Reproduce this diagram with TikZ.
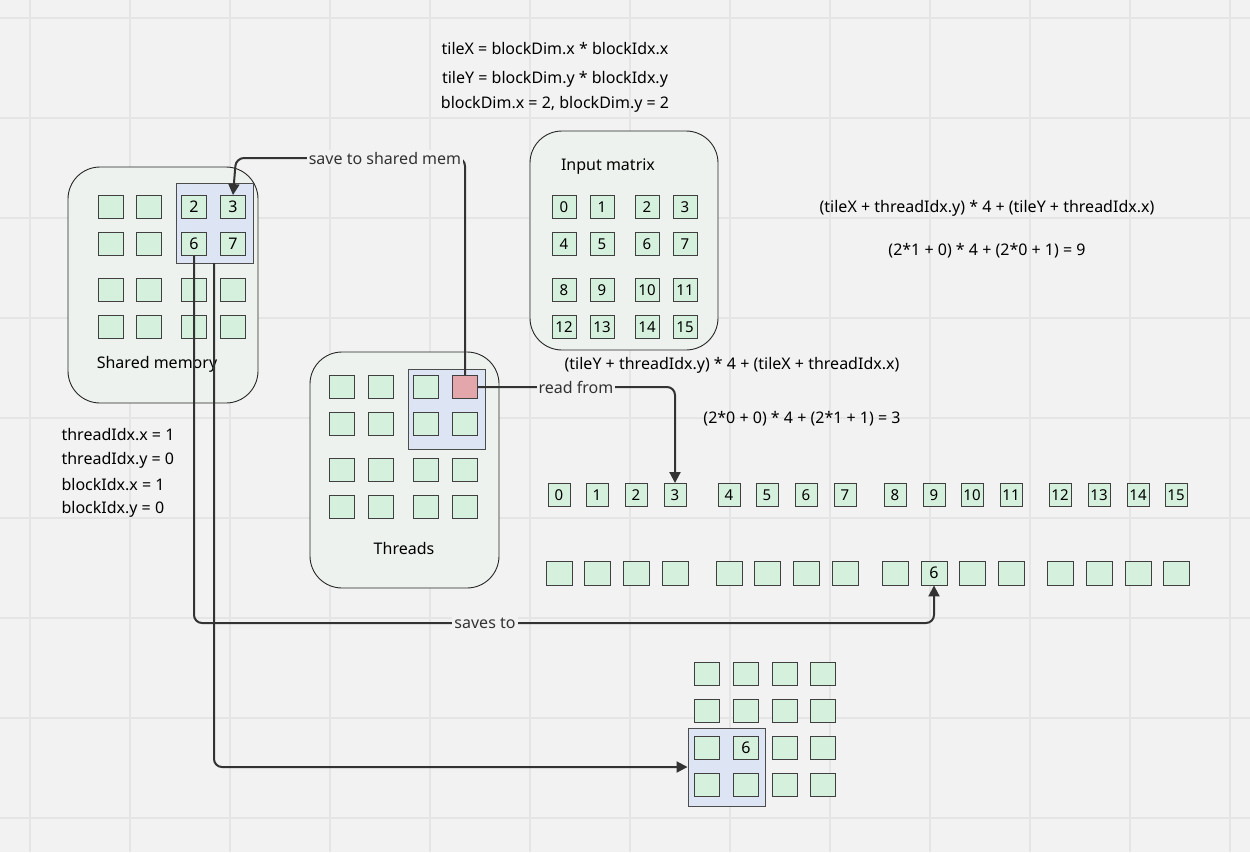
\documentclass[tikz,border=0pt]{standalone}
\usepackage{fontspec}
\setmainfont{Noto Sans}
\begin{document}
\begin{tikzpicture}[x=1pt,y=-1pt,
  font=\fontsize{16}{19}\selectfont,
  sq/.style={draw=black!75,fill=cellg,minimum width=25pt,minimum height=23pt,inner sep=0pt,line width=0.9pt},
  sqs/.style={draw=black!75,fill=cellg,minimum width=24pt,minimum height=23pt,inner sep=0pt,line width=0.9pt,font=\fontsize{15}{17}\selectfont},
  grp/.style={draw=black!85,fill=boxg,rounded corners=32pt,line width=0.9pt},
  hl/.style={draw=black!70,fill=hlb,line width=0.9pt},
  conn/.style={draw=black!80,line width=2pt,rounded corners=8pt},
  arr/.style={-{Triangle[length=11pt,width=11pt]}},
  lbl/.style={fill=bg,inner sep=2pt,text=black!80}]
\definecolor{bg}{HTML}{F2F2F2}
\definecolor{gridc}{HTML}{E5E5E5}
\definecolor{cellg}{HTML}{D5F0DC}
\definecolor{boxg}{HTML}{EDF2EE}
\definecolor{hlb}{HTML}{DDE5F5}
\definecolor{redc}{HTML}{E3A6AA}
\usetikzlibrary{arrows.meta}
\fill[bg] (0,0) rectangle (1250,852);
\useasboundingbox (0,0) rectangle (1250,852);
\foreach \x in {30,130,...,1230} \draw[gridc,line width=1.5pt] (\x,0) -- (\x,852);
\foreach \y in {18,118,...,818} \draw[gridc,line width=1.5pt] (0,\y) -- (1250,\y);

% Shared memory
\draw[grp] (68,167) rectangle (258,403);
\node[hl,minimum width=77pt,minimum height=80pt,inner sep=0pt] (smhl) at (214.5,223) {};
\foreach \c/\x in {1/111,2/149,3/194,4/233}
  \foreach \r/\y in {1/207,2/244,3/290,4/327}
    \node[sq] (sm\r\c) at (\x,\y) {};
\node at (sm13) {2}; \node at (sm14) {3}; \node at (sm23) {6}; \node at (sm24) {7};
\node (smlab) at (157,364) {Shared memory};

% Input matrix
\draw[grp] (530,131) rectangle (718,350);
\node (imlab) at (608,167) {Input matrix};
\foreach \c/\x in {1/564,2/602,3/647,4/685}
  \foreach \r/\y in {1/207,2/244,3/290,4/327}
    \node[sqs] (im\r\c) at (\x,\y) {\pgfmathparse{int((\r-1)*4+\c-1)}\pgfmathresult};

% Threads
\draw[grp] (310,352) rectangle (499,588);
\node[hl,minimum width=77pt,minimum height=80pt,inner sep=0pt] (thhl) at (446.5,409) {};
\foreach \c/\x in {1/342,2/381,3/426,4/465}
  \foreach \r/\y in {1/387,2/424,3/470,4/507}
    \node[sq] (th\r\c) at (\x,\y) {};
\node[sq,fill=redc] (red) at (465,387) {};
\node (thlab) at (404,548) {Threads};

% formulas
\node (f1) at (555,49) {tileX = blockDim.x * blockIdx.x};
\node (f2) at (555,79) {tileY = blockDim.y * blockIdx.y};
\node (f3) at (555,104) {blockDim.x = 2, blockDim.y = 2};
\node (f4) at (987,208) {(tileX + threadIdx.y) * 4 + (tileY + threadIdx.x)};
\node (f5) at (987,251) {(2*1 + 0) * 4 + (2*0 + 1) = 9};
\node (f6) at (732,365) {(tileY + threadIdx.y) * 4 + (tileX + threadIdx.x)};
\node (f7) at (802,419) {(2*0 + 0) * 4 + (2*1 + 1) = 3};
\node[anchor=west] (v1) at (58,435) {threadIdx.x = 1};
\node[anchor=west] (v2) at (58,460) {threadIdx.y = 0};
\node[anchor=west] (v3) at (58,485) {blockIdx.x = 1};
\node[anchor=west] (v4) at (58,509) {blockIdx.y = 0};

% arrays
\foreach \i/\x in {0/559,1/597,2/636,3/675,4/729,5/767,6/806,7/845,8/895,9/934,10/972,11/1011,12/1060,13/1099,14/1138,15/1176} {
  \node[sqs,minimum width=22pt] (a\i) at (\x,495) {\i};
  \node[sq,minimum width=26pt,minimum height=24pt] (b\i) at (\x,573) {};
}
\node at (b9) {6};

% bottom grid
\node[hl,minimum width=77pt,minimum height=78pt,inner sep=0pt] (bhl) at (726.5,767) {};
\foreach \c/\x in {1/707,2/746,3/785,4/823}
  \foreach \r/\y in {1/674,2/711,3/748,4/785}
    \node[sq] (bg\r\c) at (\x,\y) {};
\node at (bg32) {6};

% connectors
\draw[conn,arr] (red.north) |- (236,158) -- (sm14.north);
\node[lbl] (l1) at (385,158) {save to shared mem};
\draw[conn,arr] (red.east) -| (a3.north);
\node[lbl] (l2) at (576,387) {read from};
\draw[conn,arr] (sm23.south) |- (934,623) -- (b9.south);
\node[lbl] (l3) at (485,623) {saves to};
\draw[conn,arr] (214,263) |- (bhl.west);
\end{tikzpicture}
\end{document}
